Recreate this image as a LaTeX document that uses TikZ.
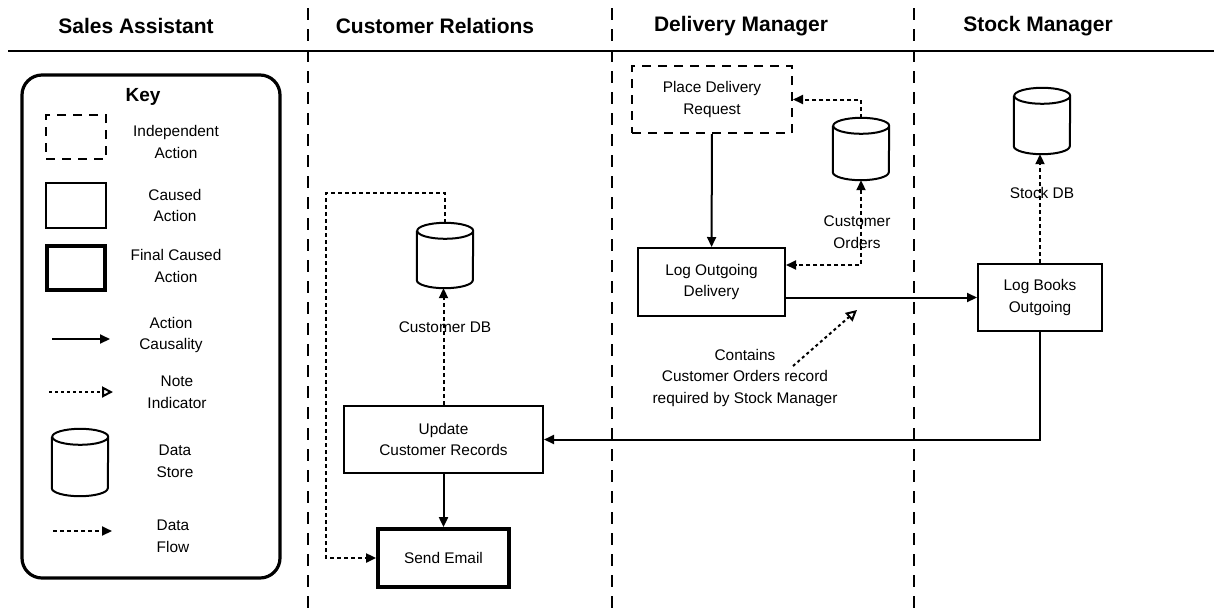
\documentclass[tikz,border=0pt]{standalone}
\usepackage{fontspec}
\setmainfont{Liberation Sans}
\usetikzlibrary{arrows.meta}
\tikzset{
	>={Triangle[length=10pt,width=9pt]}, % filled arrow heads
	every node/.style={font=\fontsize{15.4}{21.7}\selectfont, align=center}, % plain labels
	head/.style={font=\fontsize{21}{24}\selectfont\bfseries}, % lane titles
	lane/.style={line width=2pt, dash pattern=on 12pt off 9pt}, % lane separators
	action/.style={draw, line width=2pt, inner sep=0pt}, % caused action
	indep/.style={action, dash pattern=on 9pt off 7pt}, % independent action
	final/.style={action, line width=3.8pt}, % final caused action
	store/.style={minimum width=56pt, minimum height=66pt, inner sep=0pt}, % data store, outline drawn below
	cause/.style={->, line width=2pt}, % action causality
	flow/.style={->, line width=2pt, dash pattern=on 4pt off 3pt}, % data flow
	note/.style={-{Triangle[open,length=11pt,width=11pt]}, line width=2pt, dash pattern=on 3pt off 3pt}, % note indicator
}
\begin{document}
\begin{tikzpicture}[x=1pt, y=-1pt]
		\useasboundingbox (0,0) rectangle (1214,614);
		% Lanes
		\draw[lane] (308,8) -- (308,614);
		\draw[lane] (612,8) -- (612,614);
		\draw[lane] (914,8) -- (914,614);
		\draw[line width=2pt] (8,51) -- (1214,51);
		\node[head] (sa) at (136,26) {Sales Assistant};
		\node[head] (cr) at (435,26) {Customer Relations};
		\node[head] (dm) at (741,26) {Delivery Manager};
		\node[head] (sm) at (1038,26) {Stock Manager};
		
		% Key
		\node[draw, rounded corners=20pt, line width=3.2pt, minimum width=258pt, minimum height=503pt] (key) at (151,326.5) {};
		\node[font=\fontsize{19}{22}\selectfont\bfseries] (keyt) at (143,97) {Key};
		\node[indep, minimum width=60pt, minimum height=44pt] (kind) at (76,137) {};
		\node (kindt) at (176,142) {Independent\\Action};
		\node[action, minimum width=60pt, minimum height=45pt] (kcau) at (76,205.5) {};
		\node (kcaut) at (175,205.5) {Caused\\Action};
		\node[final, minimum width=58pt, minimum height=44pt] (kfin) at (76,268) {};
		\node (kfint) at (176,266) {Final Caused\\Action};
		\coordinate (kc1) at (52,339);
		\coordinate (kc2) at (110,339);
		\draw[cause] (kc1) -- (kc2);
		\node (kct) at (171,335) {Action\\Causality};
		\coordinate (kn1) at (49,392);
		\coordinate (kn2) at (113,392);
		\draw[note] (kn1) -- (kn2);
		\node (knt) at (177,392) {Note\\Indicator};
		\node[store, minimum height=67pt] (kst) at (80,462.5) {};
		\node (kstt) at (175,461) {Data\\Store};
		\coordinate (kf1) at (53,531);
		\coordinate (kf2) at (112,531);
		\draw[flow] (kf1) -- (kf2);
		\node (kft) at (173,536) {Data\\Flow};
		
		% Customer Relations
		\node[store, minimum height=65pt] (cdb) at (445,255.5) {};
		\node[action, minimum width=199pt, minimum height=67pt] (upd) at (443.5,439.5) {Update\\Customer Records};
		\node[final, minimum width=131pt, minimum height=58pt] (mail) at (443.5,558) {Send Email};
		\node (cdbt) at (445,327) {Customer DB};
		\coordinate (cdbl) at (326,193);
		
		% Delivery Manager
		\node[indep, minimum width=160pt, minimum height=67pt] (req) at (712,99.5) {Place Delivery\\Request};
		\node[store, minimum height=62pt] (ord) at (861,149) {};
		\node[action, minimum width=147pt, minimum height=68pt] (out) at (711.5,282) {Log Outgoing\\Delivery};
		\node (ordt) at (857,232) {Customer\\Orders};
		\coordinate (ordin) at (861,265);
		\node (notet) at (745,378) {Contains\\Customer Orders record\\required by Stock Manager};
		\coordinate (note1) at (793,366);
		\coordinate (note2) at (857,310);
		
		% Stock Manager
		\node[store] (sdb) at (1042,121) {};
		\node[action, minimum width=124pt, minimum height=67pt] (books) at (1040,297.5) {Log Books\\Outgoing};
		\node (sdbt) at (1042,193) {Stock DB};
		
		% Data stores
		\foreach \c in {kst, cdb, ord, sdb}
			\draw[line width=2pt] ([yshift=-8pt]\c.north west) -- ([yshift=8pt]\c.south west)
				arc[start angle=180, end angle=360, x radius=28pt, y radius=8pt]
				-- ([yshift=-8pt]\c.north east)
				arc[start angle=0, end angle=360, x radius=28pt, y radius=8pt];
		
		% Transitions
		\draw[cause] (req) -- (out);
		\draw[flow] (ord.north) |- (req.east);
		\draw[flow, <->] (ord.south) -- (ordin) -- (ordin -| out.east);
		\draw[cause] (books.west -| out.east) -- (books.west);
		\draw[flow] (books.north) -- (books.north |- sdb.south);
		\draw[cause] (books.south) |- (upd.east);
		\draw[flow] (upd.north) -- (upd.north |- cdb.south);
		\draw[cause] (upd) -- (mail);
		\draw[flow] (cdb.north) |- (cdbl) |- (mail.west);
		\draw[note] (note1) -- (note2);
	\end{tikzpicture}
\end{document}
